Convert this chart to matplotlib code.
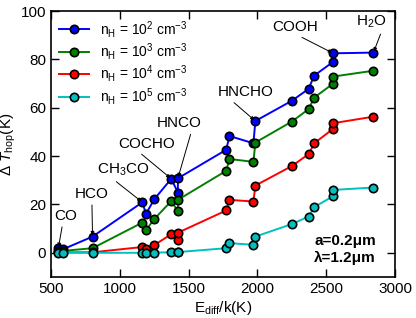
import matplotlib
matplotlib.use('Agg')
from matplotlib import pyplot as plt

plt.rcParams['font.family'] = ['Liberation Sans', 'DejaVu Sans']
plt.rcParams['mathtext.fontset'] = 'custom'
plt.rcParams['mathtext.rm'] = 'Liberation Sans'
plt.rcParams['mathtext.it'] = 'Liberation Sans:italic'

# diffusion energies E_diff/k (K)
e_diff = [553, 589, 802, 1164, 1190, 1251, 1374, 1422, 1422,
          1773, 1797, 1971, 1985, 2251, 2372, 2413, 2546, 2551, 2843]

# Delta T_hop (K) for each density
dt_1e2 = [1.9, 1.5, 6.7, 20.9, 16.1, 22.2, 30.6, 24.9, 30.8,
          42.6, 48.3, 45.3, 54.5, 62.9, 67.8, 73.3, 78.8, 82.5, 82.8]
dt_1e3 = [0.8, 0.8, 1.9, 12.5, 9.4, 14.0, 21.4, 17.2, 21.9,
          33.9, 38.8, 37.6, 45.6, 54.3, 59.4, 64.2, 69.8, 72.9, 75.3]
dt_1e4 = [0.3, 0.2, 0.2, 2.4, 1.5, 3.2, 7.7, 5.4, 8.3,
          17.5, 21.9, 21.2, 27.8, 35.9, 40.8, 45.3, 51.1, 53.6, 56.3]
dt_1e5 = [0.0, 0.0, 0.0, 0.0, 0.0, 0.1, 0.2, 0.2, 0.3,
          1.9, 4.0, 3.3, 6.7, 11.9, 15.0, 18.9, 23.3, 26.0, 27.0]

series = [
    (dt_1e2, '#0000ff', r'n$_\mathrm{H}$ = 10$^2$ cm$^{-3}$'),
    (dt_1e3, '#008000', r'n$_\mathrm{H}$ = 10$^3$ cm$^{-3}$'),
    (dt_1e4, '#ff0000', r'n$_\mathrm{H}$ = 10$^4$ cm$^{-3}$'),
    (dt_1e5, '#00c0c0', r'n$_\mathrm{H}$ = 10$^5$ cm$^{-3}$'),
]

# species labels: (text, text x, text y, point x, point y, line start along text)
species = [
    ('CO', 609, 15.3, 553, 1.9, 0.36),
    ('HCO', 797, 24.4, 802, 6.7, 0.5),
    (r'CH$_3$CO', 1029, 34.3, 1164, 20.9, 0.27),
    ('COCHO', 1196, 45.2, 1374, 30.6, 0.33),
    ('HNCO', 1435, 53.6, 1422, 30.8, 0.77),
    ('HNCHO', 1913, 66.5, 1985, 54.5, 0.22),
    ('COOH', 2275, 93.4, 2551, 82.5, 0.5),
    (r'H$_2$O', 2826, 95.5, 2843, 82.8, 0.86),
]


def main():
    fig = plt.figure(figsize=(4.16, 3.18), dpi=100)
    ax = fig.add_axes([0.1226, 0.129, 0.827, 0.8364])

    for vals, col, lab in series:
        ax.plot(e_diff, vals, '-', color=col, lw=1.4, marker='o', ms=6,
                mfc=col, mec='black', mew=1.2, label=lab)

    for txt, tx, ty, px, py, rx in species:
        ax.annotate(txt, xy=(px, py), xytext=(tx, ty), fontsize=11,
                    ha='center', va='center',
                    arrowprops=dict(arrowstyle='-|>', color='black', lw=0.7,
                                    mutation_scale=5, shrinkA=1, shrinkB=1,
                                    relpos=(rx, 0)))

    ax.text(0.945, 0.135, 'a=0.2\u03bcm', transform=ax.transAxes, ha='right',
            va='center', fontsize=11, fontweight='bold')
    ax.text(0.945, 0.071, '\u03bb=1.2\u03bcm', transform=ax.transAxes, ha='right',
            va='center', fontsize=11, fontweight='bold')

    ax.set_xlim(500, 3000)
    ax.set_ylim(-10, 100)
    ax.set_xticks([500, 1000, 1500, 2000, 2500, 3000])
    ax.set_yticks([0, 20, 40, 60, 80, 100])
    ax.tick_params(direction='in', top=True, right=True, labelsize=11,
                   length=6, width=1)
    for sp in ax.spines.values():
        sp.set_linewidth(1.2)

    ax.set_xlabel(r'E$_\mathrm{diff}$/k(K)', fontsize=11, labelpad=2)
    ax.set_ylabel(r'$\Delta$ $T_\mathrm{hop}$(K)', fontsize=11, labelpad=2)

    ax.legend(loc='upper left', frameon=False, fontsize=10, handlelength=2.2,
              borderaxespad=0.15, labelspacing=0.1, handletextpad=0.8)

    fig.savefig('out.png', dpi=100)


if __name__ == '__main__':
    main()
